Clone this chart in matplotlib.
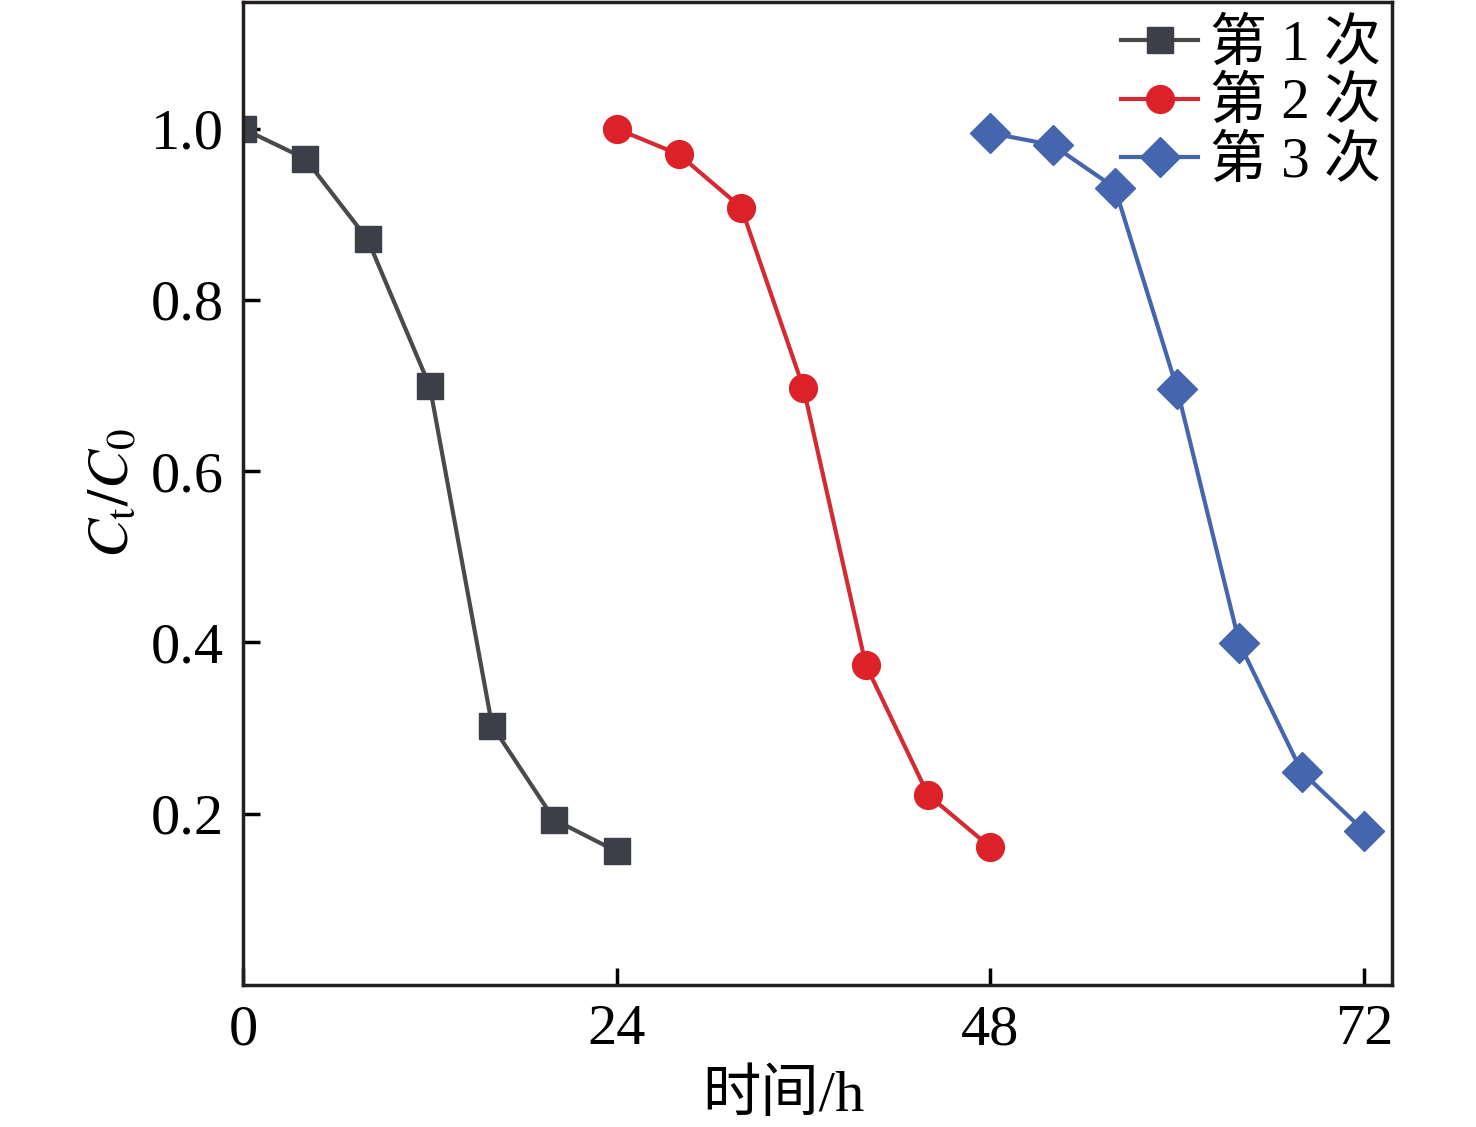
import matplotlib
matplotlib.use("Agg")
import matplotlib.pyplot as plt

# data
t1 = [0, 4, 8, 12, 16, 20, 24]
c1 = [1.0, 0.965, 0.871, 0.699, 0.303, 0.193, 0.156]
t2 = [24, 28, 32, 36, 40, 44, 48]
c2 = [1.0, 0.970, 0.908, 0.697, 0.374, 0.222, 0.161]
t3 = [48, 52, 56, 60, 64, 68, 72]
c3 = [0.995, 0.981, 0.931, 0.696, 0.399, 0.249, 0.180]
labels = ["第 1 次", "第 2 次", "第 3 次"]
xticks = [0, 24, 48, 72]
yticks = [0.2, 0.4, 0.6, 0.8, 1.0]

plt.rcParams['font.family'] = ['Liberation Serif', 'Noto Sans CJK SC']
plt.rcParams['mathtext.fontset'] = 'stix'

fig = plt.figure(figsize=(14.76, 11.27), dpi=100)
ax = fig.add_axes([243/1476, 1-985/1127, (1392-243)/1476, (985-2)/1127])

ax.plot(t1, c1, color='#4a4a4a', lw=3, marker='s', ms=19,
        mfc='#3c3f47', mec='#3c3f47', label=labels[0])
ax.plot(t2, c2, color='#d42a33', lw=3, marker='o', ms=20,
        mfc='#dc2228', mec='#dc2228', label=labels[1])
ax.plot(t3, c3, color='#4566ae', lw=3, marker='D', ms=20,
        mfc='#4566ae', mec='#4566ae', label=labels[2])

ax.set_xlim(0, 73.8)
ax.set_ylim(0, 1.148)
ax.set_xticks(xticks)
ax.set_yticks(yticks)
ax.set_yticklabels([f"{v:.1f}" for v in yticks])
ax.tick_params(direction='in', length=12, width=2.5, labelsize=42, pad=14)
for s in ax.spines.values():
    s.set_linewidth(2.5)
    s.set_color('#231f20')

ax.set_xlabel("时间/h", fontsize=42)
ax.xaxis.set_label_coords(0.47, -0.086)
ax.set_ylabel(r"$C_{\mathrm{t}}/C_0$", fontsize=42)
ax.yaxis.set_label_coords(-0.089, 0.5)

leg = ax.legend(loc='upper right', bbox_to_anchor=(1.0, 0.995), frameon=False,
                fontsize=41, handlelength=1.35, handletextpad=0.2,
                labelspacing=0.1, borderaxespad=0.0, borderpad=0.2)

fig.savefig("out.png", dpi=100)
